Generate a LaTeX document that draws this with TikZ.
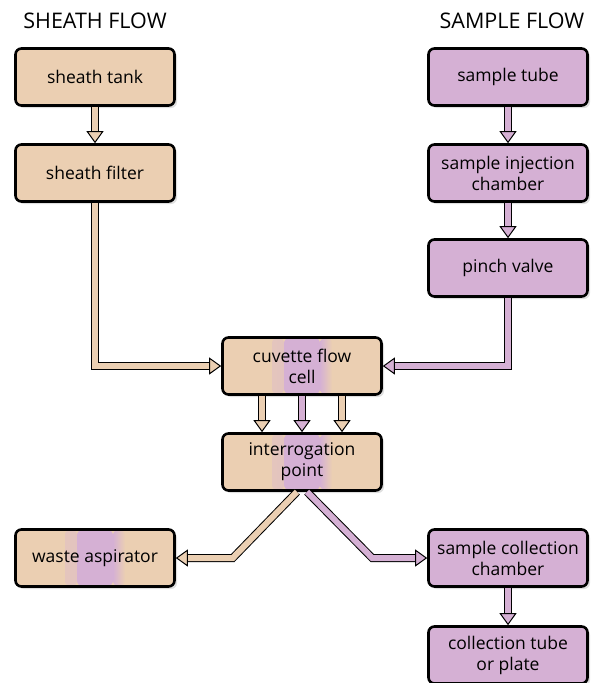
\documentclass[tikz,border=0pt]{standalone}
\usepackage{fontspec}
\setmainfont{Open Sans}
\usetikzlibrary{arrows.meta,shadows}

\definecolor{sheathtan}{RGB}{235,207,178}
\definecolor{samplemauve}{RGB}{213,176,212}

\tikzset{
  unit/.style={rounded corners=6pt, draw=black, line width=2.6pt,
    minimum width=159pt, minimum height=57pt, align=center,
    font=\fontsize{17.5}{21}\selectfont,
    drop shadow={shadow xshift=2.5pt, shadow yshift=-2.5pt, fill=black!25},
    append after command={[draw=black!75, line width=0.6pt, rounded corners=4pt]
      ([shift={(3.6pt,-3.6pt)}]\tikzlastnode.north west) rectangle
      ([shift={(-3.6pt,3.6pt)}]\tikzlastnode.south east)}},
  sheathbox/.style={unit, fill=sheathtan},
  samplebox/.style={unit, fill=samplemauve},
  % tan box with a mauve band down the middle: both flows pass through it
  mixedbox/.style={unit, fill=sheathtan, path picture={
      \shade[left color=sheathtan, right color=samplemauve]
        ([xshift=-30pt]path picture bounding box.south) rectangle
        ([xshift=-18pt]path picture bounding box.north);
      \fill[samplemauve]
        ([xshift=-18pt]path picture bounding box.south) rectangle
        ([xshift=18pt]path picture bounding box.north);
      \shade[left color=samplemauve, right color=sheathtan]
        ([xshift=18pt]path picture bounding box.south) rectangle
        ([xshift=30pt]path picture bounding box.north);}},
  flow/.style={draw=black, line width=1pt, double=#1, double distance=6pt,
    -{Triangle[open, length=12pt, width=17pt, line width=1pt, fill=#1]}},
  heading/.style={font=\fontsize{21.5}{25}\selectfont}
}

\begin{document}
\begin{tikzpicture}[x=1pt, y=-1pt]
  \useasboundingbox (0,0) rectangle (591,683);

  \node[heading] (sheathtitle) at (95,21) {SHEATH FLOW};
  \node[heading] (sampletitle) at (512,21) {SAMPLE FLOW};

  \node[sheathbox] (tank) at (95,77) {sheath tank};
  \node[sheathbox] (filter) at (95,173) {sheath filter};
  \node[samplebox] (tube) at (508,77) {sample tube};
  \node[samplebox] (inject) at (508,173) {sample injection\\chamber};
  \node[samplebox] (pinch) at (508,268) {pinch valve};
  \node[mixedbox] (cuvette) at (302,366) {cuvette flow\\cell};
  \node[mixedbox] (interr) at (302,462) {interrogation\\point};
  \node[mixedbox] (waste) at (95,558) {waste aspirator};
  \node[samplebox] (chamber) at (508,558) {sample collection\\chamber};
  \node[samplebox] (plate) at (508,655) {collection tube\\or plate};

  \draw[flow=sheathtan] (tank) -- (filter);
  \draw[flow=sheathtan] (filter) |- (cuvette);
  \draw[flow=samplemauve] (tube) -- (inject);
  \draw[flow=samplemauve] (inject) -- (pinch);
  \draw[flow=samplemauve] (pinch) |- (cuvette);
  \draw[flow=sheathtan] ([xshift=-40pt]cuvette.south) -- ([xshift=-40pt]interr.north);
  \draw[flow=samplemauve] (cuvette) -- (interr);
  \draw[flow=sheathtan] ([xshift=40pt]cuvette.south) -- ([xshift=40pt]interr.north);
  \draw[flow=sheathtan] ([xshift=-5pt]interr.south) -- ([xshift=57pt]waste.east) -- (waste.east);
  \draw[flow=samplemauve] ([xshift=5pt]interr.south) -- ([xshift=-55pt]chamber.west) -- (chamber.west);
  \draw[flow=samplemauve] (chamber) -- (plate);
\end{tikzpicture}
\end{document}
